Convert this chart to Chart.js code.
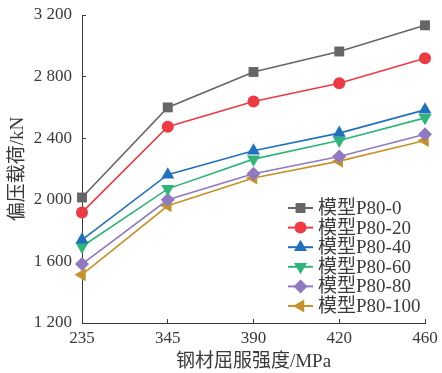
<!DOCTYPE html>
<html>
<head>
<meta charset="utf-8">
<script src="https://cdn.jsdelivr.net/npm/chart.js@4"></script>
<style>
  html, body { margin: 0; padding: 0; background: #fff; }
  #wrap { width: 442px; height: 373px; }
</style>
</head>
<body>
<div id="wrap"><canvas id="chart" width="442" height="373"></canvas></div>
<script>
// yield strength categories (MPa)
const strengths = ['235', '345', '390', '420', '460'];

// eccentric compression load (kN) per model
const p80_0   = [2015, 2600, 2830, 2963, 3133];
const p80_20  = [1918, 2474, 2638, 2757, 2919];
const p80_40  = [1740, 2163, 2318, 2433, 2584];
const p80_60  = [1697, 2071, 2264, 2385, 2532];
const p80_80  = [1583, 2000, 2169, 2281, 2426];
const p80_100 = [1514, 1961, 2141, 2251, 2385];

const seriesNames = ['模型P80-0', '模型P80-20', '模型P80-40', '模型P80-60', '模型P80-80', '模型P80-100'];
const yTicks = [1200, 1600, 2000, 2400, 2800, 3200];

const serif = "'Liberation Serif', 'Times New Roman', 'Noto Sans CJK SC', serif";
const textColor = '#3a3a3a';

const styles = [
    { color: '#666666', pointStyle: 'rect',     radius: 7,   rotation: 0 },
    { color: '#ee3b43', pointStyle: 'circle',   radius: 6,   rotation: 0 },
    { color: '#2070c0', pointStyle: 'triangle', radius: 7.5, rotation: 0 },
    { color: '#2fb57a', pointStyle: 'triangle', radius: 7.5, rotation: 180 },
    { color: '#8f79c0', pointStyle: 'rectRot',  radius: 7,   rotation: 0 },
    { color: '#c8922b', pointStyle: 'triangle', radius: 7.5, rotation: -90 }
];

const allData = [p80_0, p80_20, p80_40, p80_60, p80_80, p80_100];

const datasets = allData.map((vals, i) => ({
    label: seriesNames[i],
    data: vals,
    borderColor: styles[i].color,
    backgroundColor: styles[i].color,
    borderWidth: 1.6,
    pointStyle: styles[i].pointStyle,
    pointRadius: styles[i].radius,
    pointHoverRadius: styles[i].radius,
    pointRotation: styles[i].rotation,
    pointBorderWidth: 0,
    tension: 0
}));

// small marker drawer for the legend (same shapes as Chart.js)
function drawMarker(c, style, x, y) {
    const r = style.radius;
    c.save();
    c.fillStyle = style.color;
    c.translate(x, y);
    c.rotate(style.rotation * Math.PI / 180);
    c.beginPath();
    if (style.pointStyle === 'rect') {
        const s = Math.SQRT1_2 * r;
        c.rect(-s, -s, 2 * s, 2 * s);
    } else if (style.pointStyle === 'circle') {
        c.arc(0, 0, r, 0, Math.PI * 2);
    } else if (style.pointStyle === 'rectRot') {
        c.moveTo(0, -r); c.lineTo(r, 0); c.lineTo(0, r); c.lineTo(-r, 0);
    } else {
        // triangle, apex up before rotation
        const a = -Math.PI / 2;
        for (let k = 0; k < 3; k++) {
            const ang = a + k * 2 * Math.PI / 3;
            const px = Math.cos(ang) * r, py = Math.sin(ang) * r;
            if (k === 0) c.moveTo(px, py); else c.lineTo(px, py);
        }
    }
    c.closePath();
    c.fill();
    c.restore();
}

const innerLegend = {
    id: 'innerLegend',
    afterDatasetsDraw(chart) {
        const c = chart.ctx;
        const area = chart.chartArea;
        const x0 = area.right - 137;
        const y0 = area.bottom - 115;
        const rowH = 19.6;
        c.save();
        c.font = '19px ' + serif;
        c.textBaseline = 'middle';
        c.textAlign = 'left';
        seriesNames.forEach((name, i) => {
            const y = y0 + i * rowH;
            c.strokeStyle = styles[i].color;
            c.lineWidth = 2;
            c.beginPath();
            c.moveTo(x0, y);
            c.lineTo(x0 + 25, y);
            c.stroke();
            drawMarker(c, styles[i], x0 + 12.5, y);
            c.fillStyle = textColor;
            c.fillText(name, x0 + 30, y + 1);
        });
        c.restore();
    }
};

new Chart(document.getElementById('chart').getContext('2d'), {
    type: 'line',
    data: { labels: strengths, datasets: datasets },
    plugins: [innerLegend],
    options: {
        responsive: false,
        animation: false,
        layout: { padding: { top: 15, right: 17, left: 0, bottom: 0 } },
        plugins: {
            legend: { display: false },
            tooltip: { enabled: false }
        },
        scales: {
            x: {
                type: 'category',
                offset: false,
                grid: { display: true, drawOnChartArea: false, tickLength: -4, color: textColor, offset: false },
                border: { display: true, color: textColor, width: 1 },
                ticks: { color: textColor, font: { family: serif, size: 17 }, padding: 9, maxRotation: 0 },
                title: { display: true, text: '钢材屈服强度/MPa', color: textColor, font: { family: serif, size: 19 }, padding: 0 },
                afterFit(scale) {
                    scale.height = 50;
                    scale.paddingLeft = 0;
                    scale.paddingRight = 0;
                }
            },
            y: {
                min: 1200,
                max: 3200,
                afterBuildTicks(scale) { scale.ticks = yTicks.map(v => ({ value: v })); },
                grid: { display: true, drawOnChartArea: false, tickLength: -4, color: textColor },
                border: { display: true, color: textColor, width: 1 },
                ticks: {
                    color: textColor,
                    font: { family: serif, size: 17 },
                    padding: 14,
                    callback: v => String(v).replace(/\B(?=(\d{3})+$)/, ' ')
                },
                title: { display: true, text: '偏压载荷/kN', color: textColor, font: { family: serif, size: 19 }, padding: { top: 7, bottom: 0 } },
                afterFit(scale) {
                    scale.width = 82;
                    scale.paddingTop = 0;
                    scale.paddingBottom = 0;
                }
            }
        }
    }
});
</script>
</body>
</html>
